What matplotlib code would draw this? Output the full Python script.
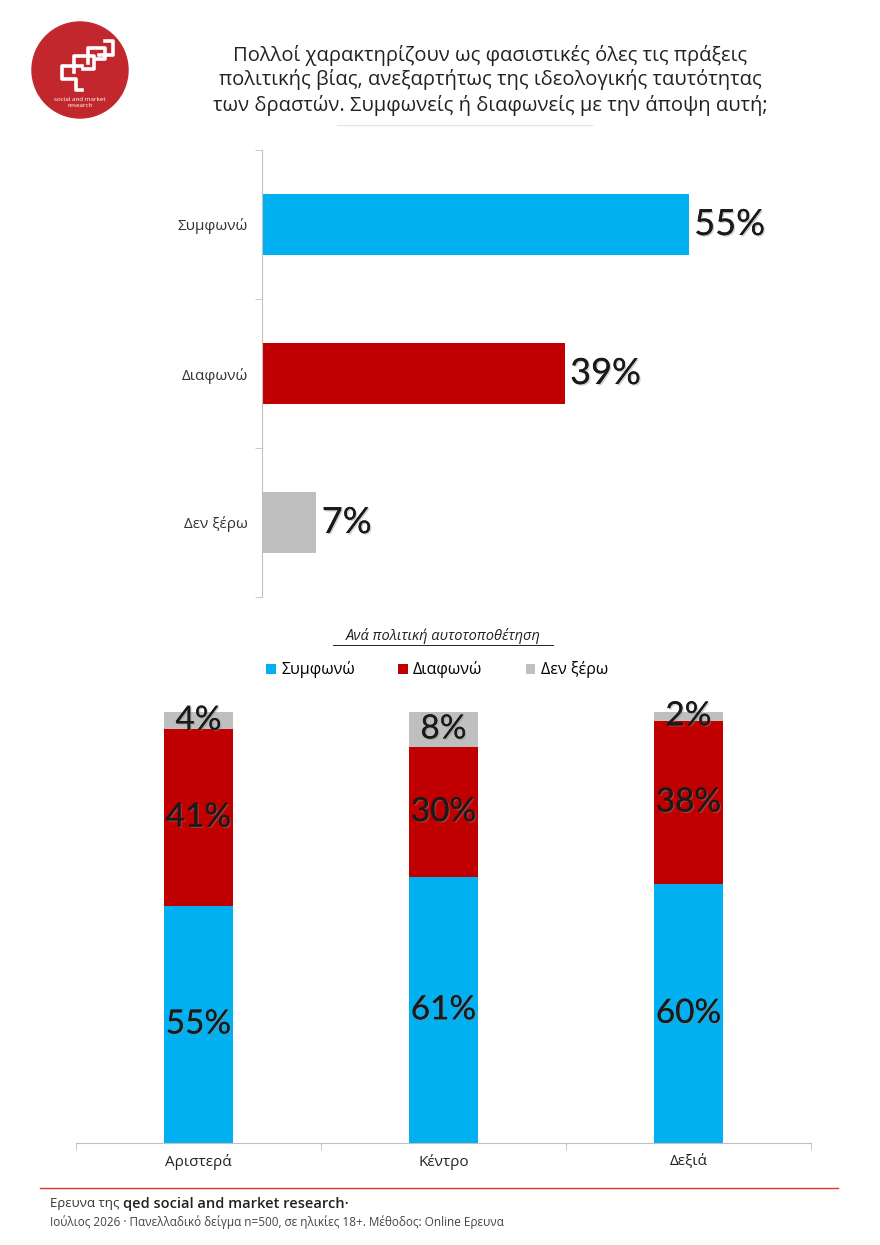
import numpy as np
import matplotlib.pyplot as plt
import matplotlib.patheffects as pe
from matplotlib.patches import Circle

# data
top_cats = ['Συμφωνώ', 'Διαφωνώ', 'Δεν ξέρω']
top_vals = [55, 39, 7]
top_colors = ['#00B0F0', '#C00000', '#BFBFBF']

groups = ['Αριστερά', 'Κέντρο', 'Δεξιά']
agree = [55, 61, 60]
disagree = [41, 30, 38]
dontknow = [4, 8, 2]
series_names = ['Συμφωνώ', 'Διαφωνώ', 'Δεν ξέρω']

title = ('Πολλοί χαρακτηρίζουν ως φασιστικές όλες τις πράξεις\n'
         'πολιτικής βίας, ανεξαρτήτως της ιδεολογικής ταυτότητας\n'
         'των δραστών. Συμφωνείς ή διαφωνείς με την άποψη αυτή;')
subtitle = 'Ανά πολιτική αυτοτοποθέτηση'
foot1 = 'Ερευνα της '
foot1b = 'qed social and market research·'
foot2 = 'Ιούλιος 2026 · Πανελλαδικό δείγμα n=500, σε ηλικίες 18+. Μέθοδος: Online Ερευνα'

TXT = ['Open Sans', 'DejaVu Sans']
NUM = ['Lato', 'DejaVu Sans']
W, H = 880, 1245
shadow = [pe.withSimplePatchShadow(offset=(1, -1), shadow_rgbFace='#888888', alpha=0.4), pe.Normal()]

fig = plt.figure(figsize=(W / 100, H / 100), dpi=100)

def fx(x):
    return x / W

def fy(y):
    return 1 - y / H

# title
fig.text(fx(490), fy(80), title, ha='center', va='center', fontsize=14.5,
         family=TXT, color='#222222', linespacing=1.25)
fig.add_artist(plt.Line2D([fx(337), fx(592)], [fy(125), fy(125)], color='#E6E6E6', lw=1))

# logo
lax = fig.add_axes([fx(31), fy(119), fx(98), 98 / H])
lax.set_xlim(0, 1)
lax.set_ylim(0, 1)
lax.set_aspect('equal')
lax.axis('off')
lax.add_patch(Circle((0.5, 0.5), 0.49, color='#C1272D'))
lw = 2.6
lax.plot([0.52, 0.32, 0.32, 0.46, 0.46, 0.52], [0.54, 0.54, 0.41, 0.41, 0.30, 0.30], color='white', lw=lw)
lax.plot([0.44, 0.44, 0.64, 0.64, 0.53], [0.48, 0.64, 0.64, 0.51, 0.51], color='white', lw=lw)
lax.plot([0.58, 0.58, 0.75, 0.75, 0.67], [0.57, 0.72, 0.72, 0.61, 0.61], color='white', lw=lw)
lax.plot([0.69, 0.84, 0.84, 0.76], [0.65, 0.65, 0.80, 0.80], color='white', lw=lw)
lax.text(0.5, 0.17, 'social and market\nresearch', ha='center', va='center', color='white',
         fontsize=4.5, family=TXT, linespacing=1.1)

# top horizontal bar chart
ax1 = fig.add_axes([fx(262), fy(597), 70 * 7.76 / W, 447 / H])
y = np.arange(len(top_cats))
ax1.barh(y, top_vals, height=0.41, color=top_colors)
ax1.set_ylim(2.5, -0.5)
ax1.set_xlim(0, 70)
for s in ['top', 'right', 'bottom']:
    ax1.spines[s].set_visible(False)
ax1.spines['left'].set_color('#BFBFBF')
ax1.set_xticks([])
ax1.set_yticks(y)
ax1.set_yticklabels(top_cats, family=TXT, fontsize=11, color='#333333')
ax1.tick_params(axis='y', which='major', length=0, pad=10)
ax1.set_yticks([-0.5, 0.5, 1.5, 2.5], minor=True)
ax1.tick_params(axis='y', which='minor', length=5, color='#BFBFBF')
for yi, v in zip(y, top_vals):
    ax1.text(v + 0.7, yi, f'{v}%', va='center', ha='left', fontsize=26,
             family=NUM, color='#1a1a1a', path_effects=shadow)

# subtitle
fig.text(fx(443), fy(636), subtitle, ha='center', va='center', fontsize=10.5,
         family=TXT, style='italic', color='#222222')
fig.add_artist(plt.Line2D([fx(333), fx(553)], [fy(645), fy(645)], color='#222222', lw=0.7))

# bottom stacked 100% columns
ax2 = fig.add_axes([fx(76), fy(1143), fx(811 - 76), 431 / H])
x = np.arange(len(groups))
tot = np.array(agree) + np.array(disagree) + np.array(dontknow)
a = np.array(agree) / tot * 100
d = np.array(disagree) / tot * 100
k = np.array(dontknow) / tot * 100
bw = 0.28
b1 = ax2.bar(x, a, bw, color=top_colors[0], label=series_names[0])
b2 = ax2.bar(x, d, bw, bottom=a, color=top_colors[1], label=series_names[1])
b3 = ax2.bar(x, k, bw, bottom=a + d, color=top_colors[2], label=series_names[2])
ax2.set_xlim(-0.5, 2.5)
ax2.set_ylim(0, 100)
for s in ['top', 'right', 'left']:
    ax2.spines[s].set_visible(False)
ax2.spines['bottom'].set_color('#BFBFBF')
ax2.set_yticks([])
ax2.set_xticks(x)
ax2.set_xticklabels(groups, family=TXT, fontsize=11, color='#222222')
ax2.tick_params(axis='x', which='major', length=0, pad=8)
ax2.set_xticks([-0.5, 0.5, 1.5, 2.5], minor=True)
ax2.tick_params(axis='x', which='minor', length=5, color='#BFBFBF')
for vals, bots, raw in [(a, np.zeros(3), agree), (d, a, disagree), (k, a + d, dontknow)]:
    for xi, v, b, r in zip(x, vals, bots, raw):
        ax2.text(xi, b + v / 2, f'{r}%', ha='center', va='center', fontsize=24,
                 family=NUM, color='#1a1a1a', path_effects=shadow)

fig.legend(handles=[b1, b2, b3], labels=series_names, loc='center', ncol=3,
           bbox_to_anchor=(fx(437), fy(670)), frameon=False, handlelength=0.6,
           handleheight=0.6, handletextpad=0.35, columnspacing=2.7,
           prop={'family': TXT, 'size': 11.5})

# footer
fig.add_artist(plt.Line2D([fx(40), fx(838)], [fy(1188), fy(1188)], color='#E03030', lw=1))
t1 = fig.text(fx(50), fy(1204), foot1, ha='left', va='center', fontsize=9.5, family=TXT, color='#333333')
fig.canvas.draw()
bb = t1.get_window_extent()
fig.text(bb.x1 / W, fy(1204), foot1b, ha='left', va='center', fontsize=10.5,
         family=TXT, color='#222222', weight='semibold')
fig.text(fx(50), fy(1222), foot2, ha='left', va='center', fontsize=8.5, family=TXT, color='#444444')

fig.savefig('out.png', dpi=100)
